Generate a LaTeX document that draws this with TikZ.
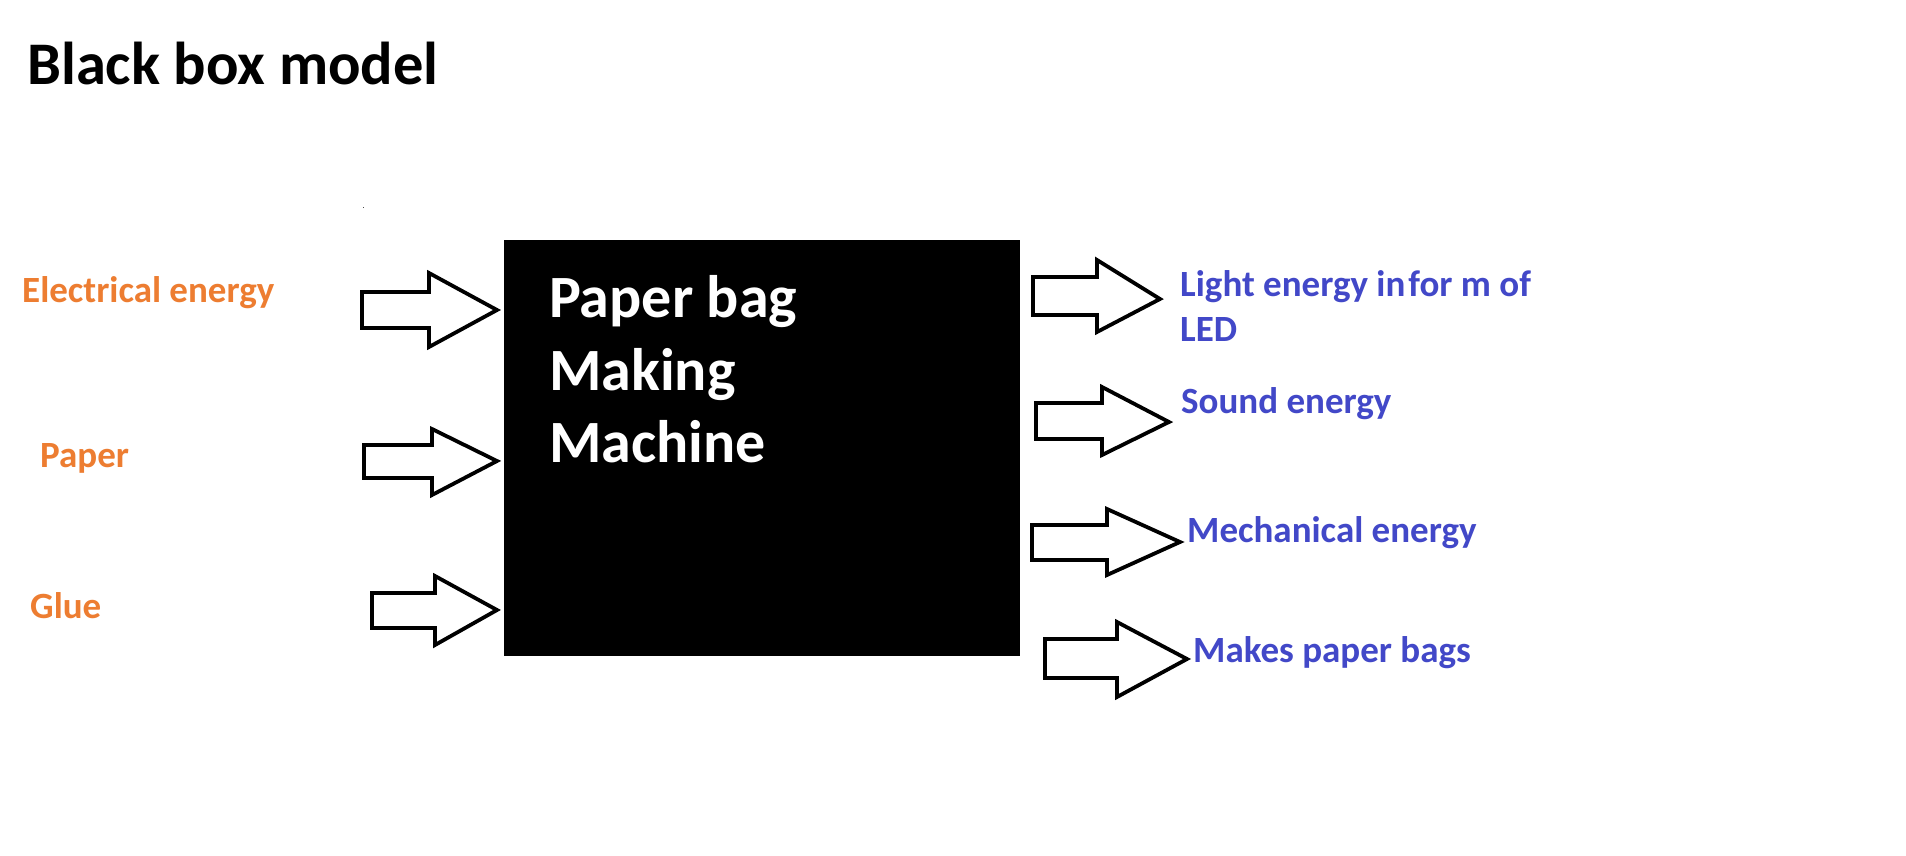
\documentclass[tikz,border=0pt]{standalone}
\usepackage{fontspec}
\setmainfont{Carlito}
\definecolor{inorange}{RGB}{237,125,49}
\definecolor{outblue}{RGB}{66,72,200}
\newcommand{\barrow}[8]{%
  \draw[arrowline] (#1,#2) -- (#4,#2) -- (#4,#5) -- (#7,#8) -- (#4,#6) -- (#4,#3) -- (#1,#3) -- cycle;}
\tikzset{
  arrowline/.style={draw=black, line width=3.8pt, line join=miter, fill=white},
  lbl/.style={anchor=base west, inner sep=0pt, font=\bfseries},
  inlbl/.style={lbl, text=inorange, font=\bfseries\fontsize{37}{37}\selectfont},
  outlbl/.style={lbl, text=outblue, font=\bfseries\fontsize{37}{37}\selectfont},
  boxlbl/.style={lbl, text=white, font=\bfseries\fontsize{60}{60}\selectfont},
}
\begin{document}
\begin{tikzpicture}[x=1pt,y=-1pt]
\useasboundingbox[fill=white] (0,0) rectangle (1906,856);
% title
\node[lbl, font=\bfseries\fontsize{60.5}{60}\selectfont] (title) at (27,85) {Black box model};
% tiny dot
\fill[black!70] (362.5,206.5) rectangle (364,208);
% black box
\node[fill=black, draw=none, inner sep=0pt, minimum width=516pt, minimum height=416pt, anchor=north west] (box) at (504,240) {};
\node[boxlbl] (t1) at (549,317) {Paper bag};
\node[boxlbl] (t2) at (549,390) {Making};
\node[boxlbl] (t3) at (549,462) {Machine};
% inputs
\node[inlbl] (in1) at (22,302) {Electrical energy};
\node[inlbl] (in2) at (40,467) {Paper};
\node[inlbl] (in3) at (30,618) {Glue};
\barrow{362}{292}{328}{429}{273}{347}{497}{310}
\barrow{364}{445}{478}{432}{429}{495}{497}{461}
\barrow{372}{593}{628}{435}{576}{645}{497}{610}
% outputs
\barrow{1033}{277}{315}{1097}{260}{332}{1160}{299}
\barrow{1036}{403}{439}{1102}{387}{455}{1169}{422}
\barrow{1032}{525}{560}{1107}{509}{575}{1180}{542}
\barrow{1045}{639}{678}{1117}{622}{697}{1187}{659}
\node[outlbl] (o1) at (1180,296) {Light energy in\hspace{0.08em}for m of};
\node[outlbl] (o1b) at (1180,341) {LED};
\node[outlbl] (o2) at (1181,413) {Sound energy};
\node[outlbl] (o3) at (1187,542) {Mechanical energy};
\node[outlbl] (o4) at (1193,662) {Makes paper bags};
\end{tikzpicture}
\end{document}
